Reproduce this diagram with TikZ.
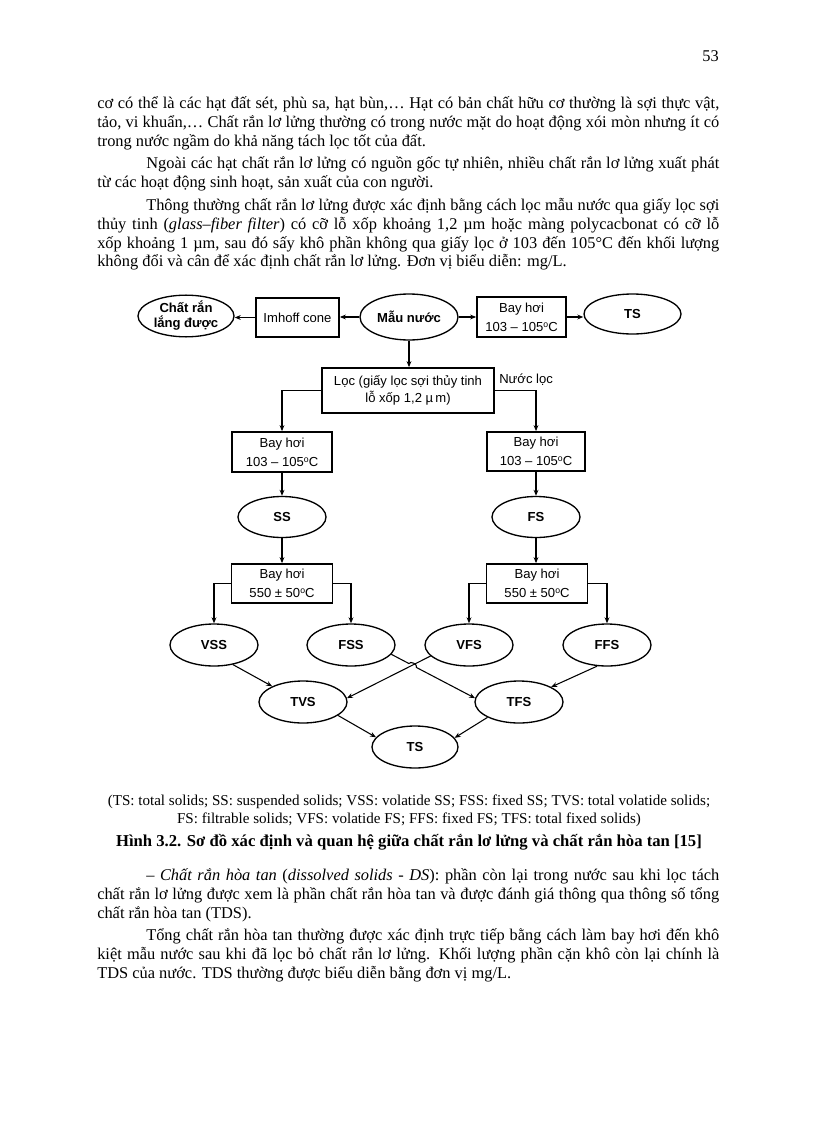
\documentclass[tikz,border=0pt]{standalone}
\usepackage{fontspec}
\setmainfont{Liberation Serif}
\newfontfamily\diag{Liberation Sans}
\usetikzlibrary{shapes.geometric,arrows.meta,calc}
\newcommand{\jline}[1]{\hbox to 466.5pt{#1}}
\newcommand{\iline}[1]{\hbox to 429.75pt{#1}}
\newcommand{\degr}{\raisebox{0.55ex}{\fontsize{6.5pt}{6.5pt}\selectfont o}}
\begin{document}
\begin{tikzpicture}[x=0.75pt,y=-0.75pt,
  body/.style={anchor=base west,inner sep=0pt,font=\fontsize{12.3pt}{14pt}\selectfont},
  captxt/.style={anchor=base,inner sep=0pt,font=\fontsize{11.3pt}{13pt}\selectfont},
  ell/.style={draw,ellipse,line width=1pt,inner sep=0pt,align=center,
    font=\diag\bfseries\fontsize{9.8pt}{11.3pt}\selectfont,
    minimum width=66pt,minimum height=31.5pt},
  box/.style={draw,rectangle,line width=1.3pt,inner sep=0pt,align=center,
    font=\diag\fontsize{9.8pt}{14.25pt}\selectfont},
  arr/.style={-{Stealth[length=4.5pt,width=3.6pt]},line width=0.8pt},
  lbl/.style={inner sep=0pt,anchor=base west,font=\diag\fontsize{9.8pt}{12pt}\selectfont}]
\useasboundingbox (0,0) rectangle (816,1123);
\fill[white] (0,0) rectangle (816,1123);

% ---------- page text ----------
\node[body,anchor=base east] (pg) at (719,62) {53};
\node[body] (l1) at (97,109) {\jline{cơ có thể là các hạt đất sét, phù sa, hạt bùn,… Hạt có bản chất hữu cơ thường là sợi thực vật,}};
\node[body] (l2) at (97,128) {\jline{tảo, vi khuẩn,… Chất rắn lơ lửng thường có trong nước mặt do hoạt động xói mòn nhưng ít có}};
\node[body] (l3) at (97,147) {trong nước ngầm do khả năng tách lọc tốt của đất.};
\node[body] (l4) at (146,169) {\iline{Ngoài các hạt chất rắn lơ lửng có nguồn gốc tự nhiên, nhiều chất rắn lơ lửng xuất phát}};
\node[body] (l5) at (97,188) {từ các hoạt động sinh hoạt, sản xuất của con người.};
\node[body] (l6) at (146,210) {\iline{Thông thường chất rắn lơ lửng được xác định bằng cách lọc mẫu nước qua giấy lọc sợi}};
\node[body] (l7) at (97,229) {\jline{thủy tinh (\textit{glass–fiber filter}) có cỡ lỗ xốp khoảng 1,2 µm hoặc màng polycacbonat có cỡ lỗ}};
\node[body] (l8) at (97,248) {\jline{xốp khoảng 1 µm, sau đó sấy khô phần không qua giấy lọc ở 103 đến 105°C đến khối lượng}};
\node[body] (l9) at (97,267) {không đổi và cân để xác định chất rắn lơ lửng. Đơn vị biểu diễn: mg/L.};

\node[captxt] (c1) at (409,805) {(TS: total solids; SS: suspended solids; VSS: volatide SS; FSS: fixed SS; TVS: total volatide solids;};
\node[captxt] (c2) at (409,823) {FS: filtrable solids; VFS: volatide FS; FFS: fixed FS; TFS: total fixed solids)};
\node[captxt,font=\bfseries\fontsize{12.5pt}{13pt}\selectfont] (c3) at (409,846) {Hình 3.2. Sơ đồ xác định và quan hệ giữa chất rắn lơ lửng và chất rắn hòa tan [15]};

\node[body] (m1) at (146,880) {\iline{\textit{– Chất rắn hòa tan} (\textit{dissolved solids - DS}): phần còn lại trong nước sau khi lọc tách}};
\node[body] (m2) at (97,899) {\jline{chất rắn lơ lửng được xem là phần chất rắn hòa tan và được đánh giá thông qua thông số tổng}};
\node[body] (m3) at (97,918) {chất rắn hòa tan (TDS).};
\node[body] (m4) at (146,940) {\iline{Tổng chất rắn hòa tan thường được xác định trực tiếp bằng cách làm bay hơi đến khô}};
\node[body] (m5) at (97,959) {\jline{kiệt mẫu nước sau khi đã lọc bỏ chất rắn lơ lửng. Khối lượng phần cặn khô còn lại chính là}};
\node[body] (m6) at (97,978) {TDS của nước. TDS thường được biểu diễn bằng đơn vị mg/L.};

% ---------- diagram ----------
\node[ell,minimum width=72pt,minimum height=30pt] (chat) at (186,316) {Chất rắn\\lắng được};
\node[box,minimum width=62.25pt,minimum height=29.25pt] (imhoff) at (297.5,317.5) {Imhoff cone};
\node[ell,minimum width=73.5pt,minimum height=34.5pt] (mau) at (409,317) {Mẫu nước};
\node[box,minimum width=66.75pt,minimum height=30pt] (bay0) at (521.5,317) {Bay hơi\\103 – 105\degr C};
\node[ell,minimum width=72.75pt,minimum height=30pt] (ts0) at (632.5,314) {TS};

\node[box,minimum width=129pt,minimum height=33.75pt,font=\diag\fontsize{9.8pt}{13pt}\selectfont] (loc) at (408,390.5) {Lọc (giấy lọc sợi thủy tinh\\lỗ xốp 1,2 µ\,m)};
\node[lbl] (nuocloc) at (499,383) {Nước lọc};

\node[box,minimum width=75pt,minimum height=30pt] (bayL) at (282,452) {Bay hơi\\103 – 105\degr C};
\node[box,minimum width=73.5pt,minimum height=29.25pt] (bayR) at (536,451.5) {Bay hơi\\103 – 105\degr C};

\node[ell,minimum height=30.75pt] (ss) at (282,517) {SS};
\node[ell,minimum height=30.75pt] (fs) at (536,517) {FS};

\node[box,minimum width=75.75pt,minimum height=29.25pt] (b550L) at (282,583.5) {Bay hơi\\550 ± 50\degr C};
\node[box,minimum width=75.75pt,minimum height=29.25pt] (b550R) at (537,583.5) {Bay hơi\\550 ± 50\degr C};

\node[ell] (vss) at (214,645) {VSS};
\node[ell] (fss) at (351,645) {FSS};
\node[ell] (vfs) at (469,645) {VFS};
\node[ell] (ffs) at (607,645) {FFS};
\node[ell] (tvs) at (303,702) {TVS};
\node[ell] (tfs) at (519,702) {TFS};
\node[ell,minimum width=64.5pt] (ts) at (415,747) {TS};

% connectors
\draw[arr] (mau.west) -- (imhoff.east |- mau.west);
\draw[arr] (imhoff.west) -- (chat.east |- imhoff.west);
\draw[arr] (mau.east) -- (bay0.west |- mau.east);
\draw[arr] (bay0.east) -- (ts0.west |- bay0.east);
\draw[arr] (mau.south) -- (mau.south |- loc.north);
\draw[arr] (loc.west) -| (bayL.north);
\draw[arr] (loc.east) -| (bayR.north);
\draw[arr] (bayL.south) -- (ss.north);
\draw[arr] (ss.south) -- (b550L.north);
\draw[arr] (bayR.south) -- (fs.north);
\draw[arr] (fs.south) -- (fs.south |- b550R.north);
\draw[arr] (b550L.west) -| (vss.north);
\draw[arr] (b550L.east) -| (fss.north);
\draw[arr] (b550R.west) -| (vfs.north);
\draw[arr] (b550R.east) -| (ffs.north);

\draw[arr] (vss.-46) -- (tvs.153);
\draw[arr] (vfs.-164) -- (tvs.5);
\coordinate (j1) at ($(fss.-13)!0.21!(tfs.175)$);
\coordinate (j2) at ($(fss.-13)!0.30!(tfs.175)$);
\draw[arr] (fss.-13) -- (j1) to[bend left=90] (j2) -- (tfs.175);
\draw[arr] (ffs.-115) -- (tfs.25);
\draw[arr] (tvs.-21) -- (ts.166);
\draw[arr] (tfs.-154) -- (ts.13);
\end{tikzpicture}
\end{document}
